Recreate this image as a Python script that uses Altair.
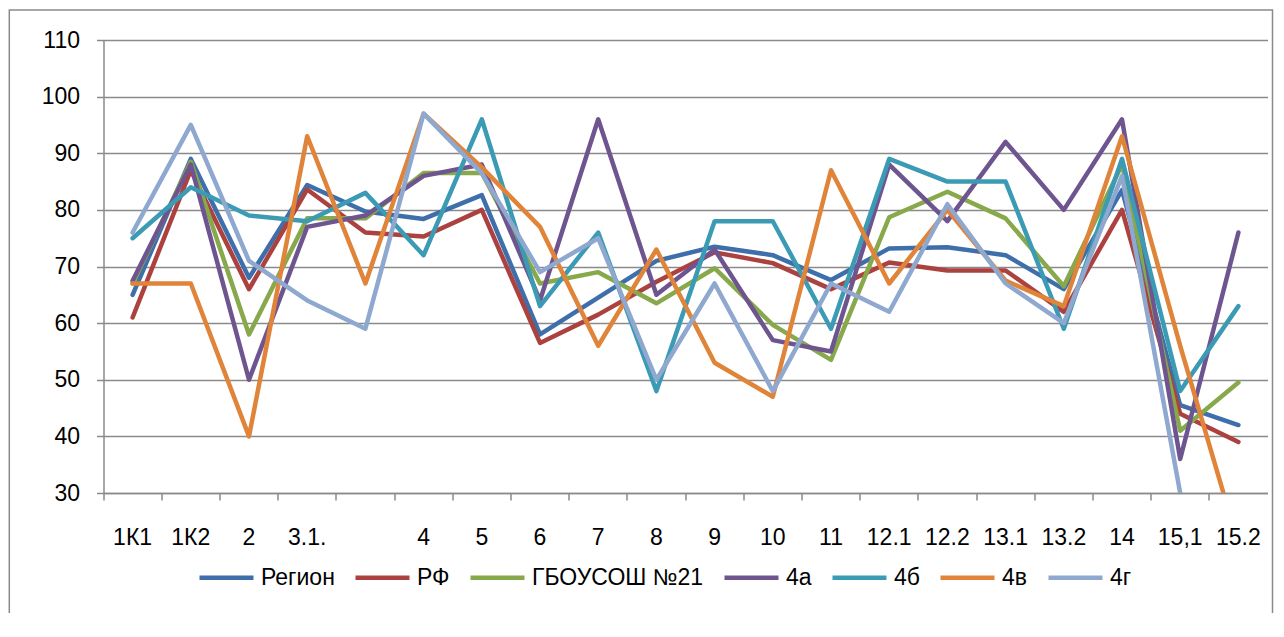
import altair as alt
import pandas as pd

# ---------------- data ----------------
categories = ["1К1", "1К2", "2", "3.1.", " ", "4", "5", "6", "7", "8", "9", "10",
              "11", "12.1", "12.2", "13.1", "13.2", "14", "15,1", "15.2"]

region = [65, 89, 68, 84.4, 79.7, 78.4, 82.6, 58, 64.5, 71, 73.5, 72, 67.6, 73.2, 73.4, 72, 66, 83.5, 45.5, 42]
rf = [61, 87, 66, 83.6, 76, 75.3, 80, 56.5, 61.5, 67.3, 72.5, 70.6, 66, 70.7, 69.3, 69.3, 62, 80, 44, 39]
school = [67, 88.5, 58, 78.5, 78.5, 86.5, 86.5, 67, 69, 63.5, 69.7, 59.7, 53.5, 78.7, 83.2, 78.5, 66.5, 88, 41, 49.5]
s4a = [67.5, 88, 50, 77, 79, 86, 88, 64, 96, 65, 73, 57, 55, 88, 78, 92, 80, 96, 36, 76]
s4b = [75, 84, 79, 78, 83, 72, 96, 63, 76, 48, 78, 78, 59, 89, 85, 85, 59, 89, 48, 63]
s4v = [67, 67, 40, 93, 67, 97, 87.5, 77, 56, 73, 53, 47, 87, 67, 80, 67.5, 63, 93, 56, 21]
s4g = [76, 95, 71, 64, 59, 97, 86.5, 69, 75, 50, 67, 48, 67, 62, 81, 67, 60, 86, 30, None]

series_names = ["Регион", "РФ", "ГБОУСОШ №21", "4а", "4б", "4в", "4г"]
series_values = [region, rf, school, s4a, s4b, s4v, s4g]
colors = ["#3F6FAA", "#AB423F", "#87A84B", "#6E5590", "#3C9BB4", "#E0843A", "#8FA8CF"]

rows = []
for name, vals in zip(series_names, series_values):
    for i, (c, v) in enumerate(zip(categories, vals)):
        rows.append({"cat": c, "val": v, "series": name, "idx": i})
df = pd.DataFrame(rows)

FONT = "Liberation Sans"
GRAY = "#8a8a8a"
W, H = 1164, 453

lines = alt.Chart(df).mark_line(
    strokeWidth=4.5, strokeCap="round", strokeJoin="round", clip=True
).encode(
    x=alt.X(
        "cat:N", sort=categories, title=None, bandPosition=0.5,
        scale=alt.Scale(type="band", paddingInner=0, paddingOuter=0),
        axis=alt.Axis(
            bandPosition=0, tickSize=7, labelPadding=37,
            labelBaseline="middle", labelAngle=0, grid=False, labelOverlap=False,
            domainColor=GRAY, domainWidth=1.5, tickColor=GRAY, tickWidth=1.5,
            labelFont=FONT, labelFontSize=23, labelColor="#000000",
        ),
    ),
    y=alt.Y(
        "val:Q", title=None,
        scale=alt.Scale(domain=[30, 110], nice=False, zero=False),
        axis=alt.Axis(
            values=list(range(30, 111, 10)), tickSize=7, labelPadding=17,
            grid=True, gridColor=GRAY, gridWidth=1.5,
            domainColor=GRAY, domainWidth=1.5, tickColor=GRAY, tickWidth=1.5,
            labelFont=FONT, labelFontSize=23, labelColor="#000000",
        ),
    ),
    color=alt.Color(
        "series:N", sort=series_names, title=None,
        scale=alt.Scale(domain=series_names, range=colors),
        legend=alt.Legend(
            orient="none", legendX=93.5, legendY=508, direction="horizontal",
            symbolType="stroke", symbolSize=2916, symbolStrokeWidth=4.5,
            labelFont=FONT, labelFontSize=23, labelColor="#000000", labelLimit=1000,
            labelOffset=5, columnPadding=11, padding=0,
        ),
    ),
    order=alt.Order("idx:Q"),
)

frame = alt.Chart(pd.DataFrame({"a": [0]})).mark_rect(
    fill="transparent", stroke=GRAY, strokeWidth=1.5, clip=False
).encode(
    x=alt.value(-94.2), x2=alt.value(W + 5), y=alt.value(-30), y2=alt.value(H + 140)
)

chart = alt.layer(frame, lines).properties(
    width=W, height=H,
    padding={"left": 95.5, "top": 32, "right": 6, "bottom": 120},
    autosize=alt.AutoSizeParams(type="none"),
).configure_view(stroke="transparent")

chart.save("out.html", embed_options={"renderer": "svg", "actions": False})
